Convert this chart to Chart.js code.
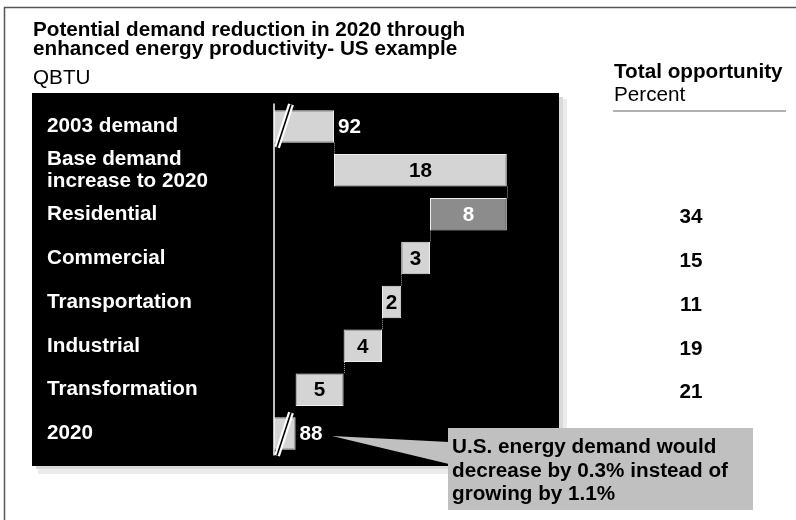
<!DOCTYPE html>
<html>
<head>
<meta charset="utf-8">
<script src="https://cdn.jsdelivr.net/npm/chart.js@4"></script>
<style>
  html, body { margin: 0; padding: 0; background: #fff; }
  #wrap { position: relative; width: 796px; height: 520px; }
</style>
</head>
<body>
<div id="wrap"><canvas id="c" width="796" height="520"></canvas></div>
<script>
const categories = ['2003 demand', ['Base demand', 'increase to 2020'], 'Residential', 'Commercial',
  'Transportation', 'Industrial', 'Transformation', '2020'];
const demand2003 = 92;
const demand2020 = 88;
const changes = [18, -8, -3, -2, -4, -5];          // base increase, then savings by sector
const opportunity = [null, null, 34, 15, 11, 19, 21, null];   // percent
const titleLines = ['Potential demand reduction in 2020 through', 'enhanced energy productivity- US example'];
const unitLabel = 'QBTU';
const calloutLines = ['U.S. energy demand would', 'decrease by 0.3% instead of', 'growing by 1.1%'];

const AXIS_MIN = 85.75, AXIS_MAX = 115;
const FONT = '"Liberation Sans", Arial, sans-serif';
const FS = 20.7;
const LIGHT = '#d4d4d4', DARK = '#8c8c8c';

// waterfall ranges built from the steps
const ranges = [demand2003];
let run = demand2003;
changes.forEach(d => { const nx = run + d; ranges.push([Math.min(run, nx), Math.max(run, nx)]); run = nx; });
ranges.push(demand2020);
const colors = ranges.map((r, i) => i === 2 ? DARK : LIGHT);

const backdrop = {
  id: 'backdrop',
  beforeDraw(chart) {
    const c = chart.ctx;
    c.save();
    // frame (only top & left visible)
    c.strokeStyle = '#555'; c.lineWidth = 1.5;
    c.beginPath(); c.moveTo(4.5, 530); c.lineTo(4.5, 7.5); c.lineTo(800, 7.5); c.stroke();
    // title
    c.fillStyle = '#000'; c.textBaseline = 'alphabetic'; c.textAlign = 'left';
    c.font = `bold ${FS}px ${FONT}`;
    c.fillText(titleLines[0], 33, 36);
    c.fillText(titleLines[1], 33, 55);
    c.font = `${FS}px ${FONT}`;
    c.fillText(unitLabel, 33, 84);
    // right header
    c.font = `bold ${FS}px ${FONT}`;
    c.fillText('Total opportunity', 614, 78);
    c.font = `${FS}px ${FONT}`;
    c.fillText('Percent', 614, 101);
    c.strokeStyle = '#666'; c.lineWidth = 1.2;
    c.beginPath(); c.moveTo(613, 111); c.lineTo(786, 111); c.stroke();
    // panel shadow + panel
    c.fillStyle = '#ececec'; c.fillRect(38, 99, 529, 375);
    c.fillStyle = '#dadada'; c.fillRect(36, 97, 527, 372);
    c.fillStyle = '#000'; c.fillRect(32, 93, 527, 373);
    c.restore();
  }
};

function slash(c, x1, y1, x2, y2) {
  c.lineCap = 'butt';
  c.strokeStyle = '#fff'; c.lineWidth = 6;
  c.beginPath(); c.moveTo(x1, y1); c.lineTo(x2, y2); c.stroke();
  c.strokeStyle = '#000'; c.lineWidth = 1.6;
  c.beginPath(); c.moveTo(x1, y1); c.lineTo(x2, y2); c.stroke();
}

const overlay = {
  id: 'overlay',
  afterDatasetsDraw(chart) {
    const c = chart.ctx, xs = chart.scales.x, ys = chart.scales.y, a = chart.chartArea;
    const bars = chart.getDatasetMeta(0).data;
    c.save();
    // axis line
    c.strokeStyle = '#fff'; c.lineWidth = 1.5;
    c.beginPath(); c.moveTo(a.left, a.top - 1); c.lineTo(a.left, a.bottom); c.stroke();
    // connectors
    c.strokeStyle = '#9a9a9a'; c.lineWidth = 1; c.setLineDash([1, 1]);
    let level = demand2003;
    for (let i = 0; i < bars.length - 2; i++) {
      const b0 = bars[i], b1 = bars[i + 1];
      const x = Math.round(xs.getPixelForValue(level)) + 0.5;
      c.beginPath(); c.moveTo(x, b0.y + b0.height / 2); c.lineTo(x, b1.y - b1.height / 2); c.stroke();
      level += changes[i];
    }
    c.setLineDash([]);
    // break marks
    const b0 = bars[0], b7 = bars[bars.length - 1];
    slash(c, a.left + 3, b0.y + 21, a.left + 17, b0.y - 22);
    slash(c, a.left + 3, b7.y + 22, a.left + 17, b7.y - 21);
    // value labels
    c.font = `bold ${FS}px ${FONT}`; c.textBaseline = 'middle';
    bars.forEach((b, i) => {
      if (i === 0 || i === bars.length - 1) {
        const v = i === 0 ? demand2003 : demand2020;
        c.fillStyle = '#fff'; c.textAlign = 'left';
        c.fillText(String(v), xs.getPixelForValue(v) + 4, b.y + 1);
      } else {
        c.fillStyle = i === 2 ? '#fff' : '#000'; c.textAlign = 'center';
        c.fillText(String(Math.abs(changes[i - 1])), (b.x + b.base) / 2, b.y + 1);
      }
    });
    // total opportunity column
    c.fillStyle = '#000'; c.textAlign = 'center';
    opportunity.forEach((p, i) => {
      if (p == null) return;
      c.fillText(String(p), 691, ys.getPixelForValue(i) + 3);
    });
    // callout
    c.fillStyle = '#c0c0c0';
    c.beginPath(); c.moveTo(332, 436); c.lineTo(449, 442); c.lineTo(449, 464); c.closePath(); c.fill();
    c.fillRect(448, 428, 305, 82);
    c.fillStyle = '#000'; c.textAlign = 'left'; c.textBaseline = 'alphabetic';
    calloutLines.forEach((t, i) => c.fillText(t, 452, 453 + i * 23.5));
    c.restore();
  }
};

new Chart(document.getElementById('c'), {
  type: 'bar',
  data: {
    labels: categories,
    datasets: [{
      data: ranges,
      backgroundColor: colors,
      borderColor: '#eeeeee',
      borderWidth: 1,
      borderSkipped: false,
      barPercentage: 0.74,
      categoryPercentage: 1
    }]
  },
  options: {
    indexAxis: 'y',
    responsive: false,
    animation: false,
    layout: { padding: { left: 47, top: 104.5, bottom: 64.5, right: 241.2 } },
    plugins: { legend: { display: false }, tooltip: { enabled: false }, title: { display: false } },
    scales: {
      x: { type: 'linear', min: AXIS_MIN, max: AXIS_MAX, display: false },
      y: {
        grid: { display: false },
        border: { display: false },
        ticks: {
          color: '#fff', crossAlign: 'far', padding: 0, autoSkip: false,
          font: { family: FONT, weight: 'bold', size: FS, lineHeight: 1.1 }
        },
        afterFit: s => { s.width = 227; }
      }
    }
  },
  plugins: [backdrop, overlay]
});
</script>
</body>
</html>
